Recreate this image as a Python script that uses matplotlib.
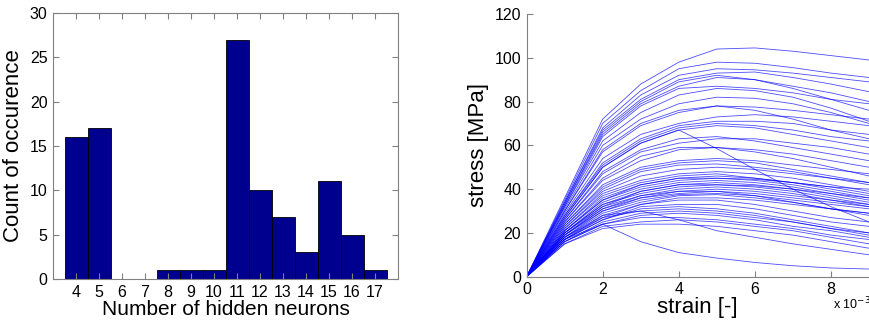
import matplotlib
matplotlib.use("Agg")
import matplotlib.pyplot as plt
import numpy as np

plt.rcParams['font.family'] = ['Liberation Sans', 'DejaVu Sans']

# histogram of hidden neurons
neurons = [4, 5, 6, 7, 8, 9, 10, 11, 12, 13, 14, 15, 16, 17]
counts = [16, 17, 0, 0, 1, 1, 1, 27, 10, 7, 3, 11, 5, 1]

# stress-strain curves, stress [MPa] read at these strains
strain = [0, 0.001, 0.002, 0.003, 0.004, 0.005, 0.006, 0.007, 0.008, 0.009]
stress_curves = [
    [0, 36, 72, 88, 98, 104, 104.5, 103, 101, 99],
    [0, 35, 70, 85, 95, 98, 97.5, 95.5, 93, 91],
    [0, 34, 68, 83, 92, 95, 94.5, 93, 91, 89],
    [0, 34, 67, 81, 90, 93, 93.5, 91, 88, 84.5],
    [0, 33, 66, 80, 89, 92, 90, 86, 81, 76],
    [0, 33, 65, 79, 87, 91, 90, 87, 84, 80],
    [0, 32, 64, 78, 86, 87, 86, 84, 81, 79],
    [0, 32, 62, 75, 83, 86, 85, 82, 77, 71],
    [0, 31, 60, 72, 79, 82, 81.5, 79, 75, 70],
    [0, 30, 58, 70, 76, 78, 77.5, 76, 74, 72],
    [0, 30, 57, 69, 75, 78, 76, 72, 67, 63],
    [0, 29, 54, 65, 70, 73, 74, 73, 71, 69],
    [0, 28, 52, 63, 69, 71, 71, 70, 67, 65],
    [0, 28, 51, 62, 68, 70, 69, 67, 64, 62],
    [0, 27, 50, 61, 67, 69, 68, 65, 62, 59],
    [0, 27, 50, 61, 67, 58.5, 49, 40, 32, 25],
    [0, 26, 47, 57, 61, 63, 63, 61, 59, 56],
    [0, 26, 48, 58, 63, 64, 62, 59, 56, 53],
    [0, 25, 45, 55, 59, 59, 58, 56, 53, 50],
    [0, 25, 44, 53, 58, 59, 57, 54, 50, 46],
    [0, 24, 42, 50, 53, 54, 53, 51, 49, 47],
    [0, 24, 41, 49, 52, 53, 52, 49, 46, 43],
    [0, 23, 40, 48, 51, 51.5, 50, 48, 45, 42],
    [0, 23, 39, 46, 49, 50, 49, 47, 45, 43],
    [0, 22, 38, 44, 47, 48, 47, 45, 42, 39],
    [0, 22, 37, 43, 46, 47, 45, 43, 40, 37],
    [0, 21, 36, 42, 45, 46, 45, 43, 41, 38],
    [0, 21, 35, 41, 44, 45, 44.5, 43, 41, 40],
    [0, 21, 35, 42, 45, 45, 44, 42, 39, 36],
    [0, 20, 34, 40, 43, 44, 43, 41, 38, 35],
    [0, 20, 33, 39, 42, 43, 42, 40, 37, 34],
    [0, 20, 33, 38, 41, 42, 41.5, 40, 38, 36],
    [0, 20, 32, 39, 42, 42, 41, 39, 36, 33],
    [0, 19, 32, 37, 40, 41, 40, 38, 35, 32],
    [0, 19, 31, 36, 39, 40, 39, 37, 35, 33],
    [0, 19, 30, 36, 38, 39, 38, 36, 34, 32],
    [0, 19, 31, 37, 39, 39, 37, 34, 31, 28],
    [0, 18, 30, 35, 37.5, 38, 37, 35, 33, 31],
    [0, 18, 29, 34, 37, 37.5, 36, 34, 31, 29],
    [0, 18, 28, 33, 36, 36, 35, 33, 31, 29],
    [0, 18, 27, 33, 35, 35, 33, 30, 27, 25],
    [0, 17, 26, 32, 33, 33, 31, 28, 25, 23],
    [0, 17, 26, 31, 32, 31, 29, 26, 23, 20],
    [0, 17, 27, 30, 31, 30, 28, 25, 22, 19],
    [0, 16, 25, 29, 30, 29, 27, 25, 22, 20],
    [0, 16, 24, 28, 29, 28, 26, 23, 21, 18],
    [0, 16, 24, 27, 27, 26, 24, 22, 19, 17],
    [0, 15, 23, 25, 26, 25, 23, 21, 18, 15],
    [0, 15, 22, 24, 24, 23, 21, 19, 16, 13],
    [0, 17, 24, 16, 11, 8.5, 6.5, 5, 4, 3.5],
    [0, 17, 28, 30, 26, 21, 18, 15, 12.5, 10],
]

fig = plt.figure(figsize=(8.69, 3.22), dpi=100)
grey = '#808080'

# left: histogram
ax1 = fig.add_axes([0.061, 0.1335, 0.397, 0.826])
ax1.bar(neurons, counts, width=1.0, color='#00008f', edgecolor='black', linewidth=0.6)
ax1.set_xlim(3, 18)
ax1.set_ylim(0, 30)
ax1.set_xticks(neurons)
ax1.set_yticks(range(0, 31, 5))
ax1.tick_params(direction='in', top=True, right=True, length=4, color=grey,
                labelsize=11.5, pad=4)
for s in ax1.spines.values():
    s.set_color(grey)
ax1.set_xlabel("Number of hidden neurons", fontsize=15, labelpad=0)
ax1.set_ylabel("Count of occurence", fontsize=16, labelpad=4)

# right: stress-strain curves
ax2 = fig.add_axes([0.606, 0.1407, 0.394, 0.8158])
for curve in stress_curves:
    ax2.plot(strain, curve, color='blue', linewidth=0.6, alpha=0.7)
ax2.set_xlim(0, 0.009)
ax2.set_ylim(0, 120)
ax2.set_xticks([0, 0.002, 0.004, 0.006, 0.008])
ax2.set_xticklabels(['0', '2', '4', '6', '8'])
ax2.set_yticks(range(0, 121, 20))
ax2.spines['top'].set_visible(False)
ax2.spines['right'].set_visible(False)
for s in ['left', 'bottom']:
    ax2.spines[s].set_color(grey)
ax2.tick_params(direction='in', length=4, color=grey, labelsize=11.5, pad=4)
ax2.set_xlabel("strain [-]", fontsize=16, labelpad=0)
ax2.set_ylabel("stress [MPa]", fontsize=16, labelpad=4)
fig.text(0.958, 0.03, "x 10$^{-3}$", fontsize=9, ha='left', va='bottom')

fig.savefig("out.png", dpi=100)
